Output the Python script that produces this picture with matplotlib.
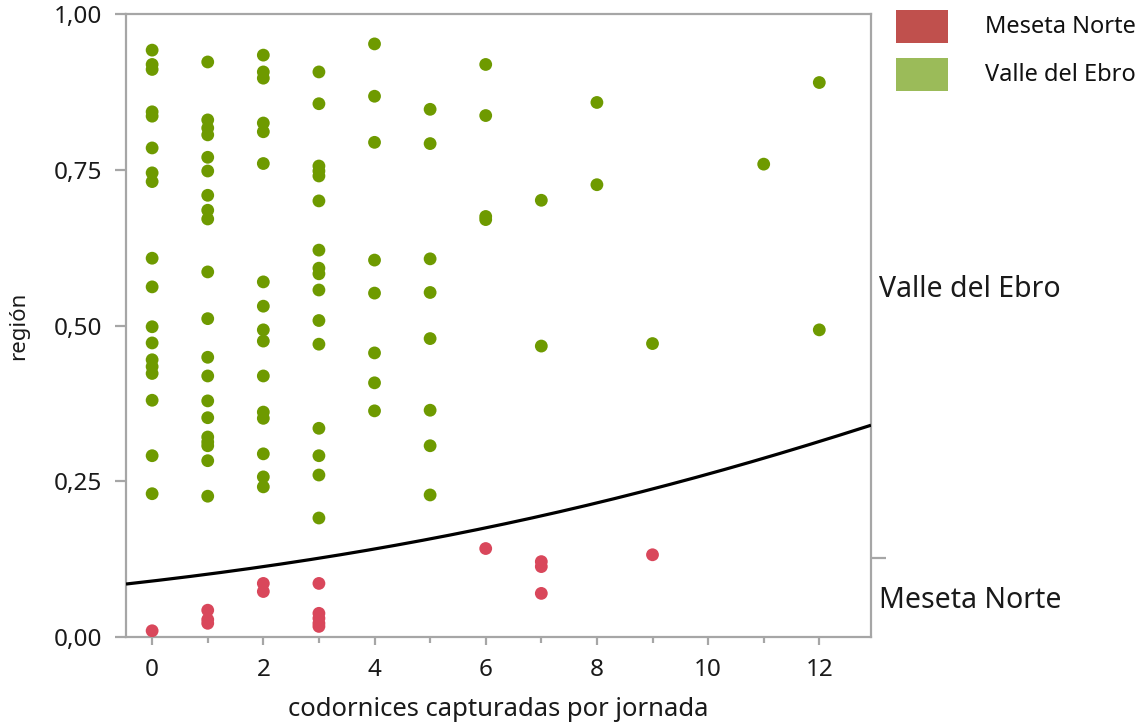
import numpy as np
import matplotlib
matplotlib.use("Agg")
import matplotlib.pyplot as plt
from matplotlib.patches import Rectangle
from matplotlib.ticker import FuncFormatter, FixedLocator, MultipleLocator

plt.rcParams['font.family'] = ['Noto Sans', 'DejaVu Sans']

# ---- data (x = codornices capturadas, y = jittered position in the logistic plot) ----
valle_x = ([0]*18 + [1]*20 + [2]*16 + [3]*16 + [4]*8 + [5]*8 + [6]*4 + [7]*2 + [8]*2
           + [9] + [11] + [12]*2)
valle_y = [
    # x = 0
    0.942, 0.919, 0.911, 0.843, 0.836, 0.785, 0.745, 0.731, 0.608, 0.562,
    0.498, 0.472, 0.445, 0.434, 0.423, 0.380, 0.291, 0.230,
    # x = 1
    0.923, 0.830, 0.817, 0.806, 0.770, 0.748, 0.709, 0.685, 0.671, 0.586,
    0.511, 0.449, 0.419, 0.379, 0.352, 0.321, 0.313, 0.307, 0.283, 0.226,
    # x = 2
    0.934, 0.907, 0.897, 0.825, 0.811, 0.760, 0.570, 0.531, 0.493, 0.475,
    0.419, 0.361, 0.351, 0.294, 0.257, 0.241,
    # x = 3
    0.907, 0.856, 0.756, 0.748, 0.740, 0.700, 0.621, 0.592, 0.583, 0.557,
    0.508, 0.470, 0.335, 0.291, 0.260, 0.191,
    # x = 4
    0.952, 0.868, 0.794, 0.605, 0.552, 0.456, 0.408, 0.363,
    # x = 5
    0.847, 0.792, 0.607, 0.553, 0.479, 0.364, 0.307, 0.228,
    # x = 6
    0.919, 0.837, 0.675, 0.670,
    # x = 7
    0.701, 0.467,
    # x = 8
    0.858, 0.726,
    # x = 9
    0.471,
    # x = 11
    0.759,
    # x = 12
    0.890, 0.493,
]
meseta_x = [0, 1, 1, 1, 2, 2, 3, 3, 3, 3, 3, 6, 7, 7, 7, 9]
meseta_y = [0.010, 0.043, 0.028, 0.022, 0.086, 0.073, 0.086, 0.038, 0.030,
            0.022, 0.017, 0.142, 0.121, 0.113, 0.070, 0.132]

# fitted logistic model  P(Meseta Norte) = 1/(1+exp(-(b0 + b1*x)))
B0 = -2.316
B1 = 0.1278
MESETA_SHARE = 0.127   # boundary on the right axis

categories = ['Meseta Norte', 'Valle del Ebro']
legend_colors = ['#c0504d', '#9bbb59']
dot_colors = ['#d9475b', '#6e9a00']

x_ticks = [0, 2, 4, 6, 8, 10, 12]
y_ticks = [0.0, 0.25, 0.5, 0.75, 1.0]

# ---- figure ----
W, H = 1144, 726
fig = plt.figure(figsize=(W/100, H/100), dpi=100)
ax = fig.add_axes([126/W, 1-637/H, (871-126)/W, (637-14)/H])

ax.scatter(valle_x, valle_y, s=85, color=dot_colors[1], edgecolors='none', zorder=3)
ax.scatter(meseta_x, meseta_y, s=85, color=dot_colors[0], edgecolors='none', zorder=3)

xlim = (-0.47, 12.93)
xs = np.linspace(xlim[0], xlim[1], 300)
ax.plot(xs, 1/(1+np.exp(-(B0 + B1*xs))), color='black', lw=2.3, zorder=4,
        solid_capstyle='butt')

ax.set_xlim(*xlim)
ax.set_ylim(0, 1)

spine_c = '#a6a6a6'
txt_c = '#1a1a1a'
for s in ax.spines.values():
    s.set_color(spine_c)
    s.set_linewidth(1.6)

ax.set_xticks(x_ticks)
ax.xaxis.set_minor_locator(MultipleLocator(1))
ax.set_yticks(y_ticks)
ax.yaxis.set_major_formatter(FuncFormatter(lambda v, p: f"{v:.2f}".replace('.', ',')))
ax.tick_params(axis='both', which='major', colors=spine_c, labelcolor=txt_c,
               labelsize=17.5, width=1.6, direction='out')
ax.tick_params(axis='x', which='major', length=6, pad=9)
ax.tick_params(axis='x', which='minor', length=4.5, width=1.6, colors=spine_c)
ax.tick_params(axis='y', which='major', length=8, pad=9)

ax.set_xlabel('codornices capturadas por jornada', fontsize=18.5, color=txt_c, labelpad=11)
ax.set_ylabel('región', fontsize=16, color=txt_c, labelpad=18)

# right axis with category labels
ax2 = ax.twinx()
ax2.set_ylim(0, 1)
for s in ax2.spines.values():
    s.set_visible(False)
ax2.yaxis.set_major_locator(FixedLocator([MESETA_SHARE]))
ax2.yaxis.set_major_formatter(FuncFormatter(lambda v, p: ''))
ax2.yaxis.set_minor_locator(FixedLocator([MESETA_SHARE/2, (1+MESETA_SHARE)/2]))
ax2.yaxis.set_minor_formatter(FuncFormatter(
    lambda v, p: categories[0] if v < MESETA_SHARE else categories[1]))
ax2.tick_params(axis='y', which='major', length=11, width=1.6, colors=spine_c)
ax2.tick_params(axis='y', which='minor', length=0, pad=6, labelsize=20.5,
                labelcolor=txt_c)

# legend
for i, (lab, c) in enumerate(zip(categories, legend_colors)):
    y0 = [10, 58][i]
    fig.add_artist(Rectangle((896/W, 1-(y0+33)/H), 52/W, 33/H,
                             transform=fig.transFigure, color=c, lw=0))
    fig.text(985/W, 1-(y0+17)/H, lab, fontsize=17, color='#111111',
             va='center', ha='left')

fig.savefig('out.png', dpi=100)
